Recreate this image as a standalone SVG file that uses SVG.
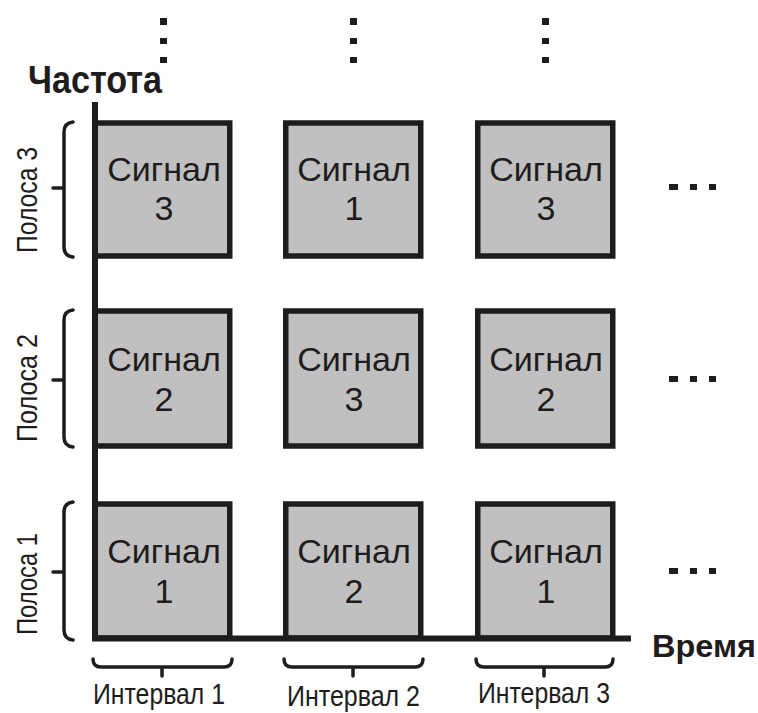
<svg xmlns="http://www.w3.org/2000/svg" width="758" height="713" viewBox="0 0 758 713">
<style>
.box{fill:#c0c0c0;stroke:#1e1c1c;stroke-width:5.5}
.sig{font-family:"Liberation Sans",Arial,sans-serif;font-size:34px;fill:#1e1c1c;text-anchor:middle}
.lbl{font-family:"Liberation Sans",Arial,sans-serif;font-size:30px;fill:#1e1c1c}
.bold{font-family:"Liberation Sans",Arial,sans-serif;font-weight:bold;fill:#1e1c1c}
.brace{fill:none;stroke:#1e1c1c;stroke-width:3.5;stroke-linecap:round;stroke-linejoin:round}
.axis{stroke:#1e1c1c;stroke-width:6;fill:none}
.dot{fill:#1e1c1c}
</style>
<rect width="758" height="713" fill="#ffffff"/>

<g id="dots-top">
<rect class="dot" x="160" y="18" width="7" height="7"/>
<rect class="dot" x="160" y="38" width="7" height="6"/>
<rect class="dot" x="160" y="57" width="7" height="6"/>
<rect class="dot" x="350" y="18" width="7" height="7"/>
<rect class="dot" x="350" y="38" width="7" height="6"/>
<rect class="dot" x="350" y="57" width="7" height="6"/>
<rect class="dot" x="542" y="18" width="7" height="7"/>
<rect class="dot" x="542" y="38" width="7" height="6"/>
<rect class="dot" x="542" y="57" width="7" height="6"/>
</g>
<g id="dots-right">
<rect class="dot" x="669" y="184" width="9" height="6"/>
<rect class="dot" x="690" y="184" width="7" height="6"/>
<rect class="dot" x="709" y="184" width="7" height="6"/>
<rect class="dot" x="669" y="376" width="9" height="6"/>
<rect class="dot" x="690" y="376" width="7" height="6"/>
<rect class="dot" x="709" y="376" width="7" height="6"/>
<rect class="dot" x="669" y="568" width="9" height="6"/>
<rect class="dot" x="690" y="568" width="7" height="6"/>
<rect class="dot" x="709" y="568" width="7" height="6"/>
</g>

<g id="cell-1-1"><rect class="box" x="94.75" y="123" width="135" height="133"/><text class="sig" x="164" y="181">Сигнал</text><text class="sig" x="164" y="220">3</text></g>
<g id="cell-1-2"><rect class="box" x="285.75" y="123" width="135" height="133"/><text class="sig" x="354" y="181">Сигнал</text><text class="sig" x="354" y="220">1</text></g>
<g id="cell-1-3"><rect class="box" x="477.75" y="123" width="135" height="133"/><text class="sig" x="546" y="181">Сигнал</text><text class="sig" x="546" y="220">3</text></g>

<g id="cell-2-1"><rect class="box" x="94.75" y="311" width="135" height="135"/><text class="sig" x="164" y="371">Сигнал</text><text class="sig" x="164" y="411">2</text></g>
<g id="cell-2-2"><rect class="box" x="285.75" y="311" width="135" height="135"/><text class="sig" x="354" y="371">Сигнал</text><text class="sig" x="354" y="411">3</text></g>
<g id="cell-2-3"><rect class="box" x="477.75" y="311" width="135" height="135"/><text class="sig" x="546" y="371">Сигнал</text><text class="sig" x="546" y="411">2</text></g>

<g id="cell-3-1"><rect class="box" x="94.75" y="504" width="135" height="134"/><text class="sig" x="164" y="563">Сигнал</text><text class="sig" x="164" y="603">1</text></g>
<g id="cell-3-2"><rect class="box" x="285.75" y="504" width="135" height="134"/><text class="sig" x="354" y="563">Сигнал</text><text class="sig" x="354" y="603">2</text></g>
<g id="cell-3-3"><rect class="box" x="477.75" y="504" width="135" height="134"/><text class="sig" x="546" y="563">Сигнал</text><text class="sig" x="546" y="603">1</text></g>

<g id="axes">
<line class="axis" x1="95" y1="102" x2="95" y2="641"/>
<line class="axis" x1="92" y1="638.5" x2="631" y2="638.5"/>
<text class="bold" x="28" y="93" font-size="39" textLength="134" lengthAdjust="spacingAndGlyphs">Частота</text>
<text class="bold" x="652" y="657" font-size="32" textLength="104" lengthAdjust="spacingAndGlyphs">Время</text>
</g>

<g id="braces-left">
<path class="brace" d="M73,122 Q64,123 64,132 L64,247 Q64,256 73,257 M53,188 L64,188"/>
<path class="brace" d="M73,310 Q64,311 64,320 L64,437 Q64,446 73,447 M53,380 L64,380"/>
<path class="brace" d="M73,502 Q64,503 64,512 L64,630 Q64,639 73,640 M53,572 L64,572"/>
</g>
<g id="braces-bottom">
<path class="brace" d="M93,659 Q93,667 101,667 L224,667 Q232,667 232,659 M162,667 L162,676"/>
<path class="brace" d="M284,659 Q284,667 292,667 L415,667 Q423,667 423,659 M353,667 L353,676"/>
<path class="brace" d="M476,659 Q476,667 484,667 L605,667 Q613,667 613,659 M544,667 L544,676"/>
</g>

<g id="band-labels">
<text class="lbl" transform="translate(37,200) rotate(-90)" text-anchor="middle" font-size="31" textLength="106" lengthAdjust="spacingAndGlyphs">Полоса 3</text>
<text class="lbl" transform="translate(37,388) rotate(-90)" text-anchor="middle" font-size="31" textLength="108" lengthAdjust="spacingAndGlyphs">Полоса 2</text>
<text class="lbl" transform="translate(37,584) rotate(-90)" text-anchor="middle" font-size="31" textLength="102" lengthAdjust="spacingAndGlyphs">Полоса 1</text>
</g>
<g id="interval-labels">
<text class="lbl" x="93" y="704" textLength="132" lengthAdjust="spacingAndGlyphs">Интервал 1</text>
<text class="lbl" x="287" y="706" textLength="133" lengthAdjust="spacingAndGlyphs">Интервал 2</text>
<text class="lbl" x="478" y="703" textLength="132" lengthAdjust="spacingAndGlyphs">Интервал 3</text>
</g>
</svg>
